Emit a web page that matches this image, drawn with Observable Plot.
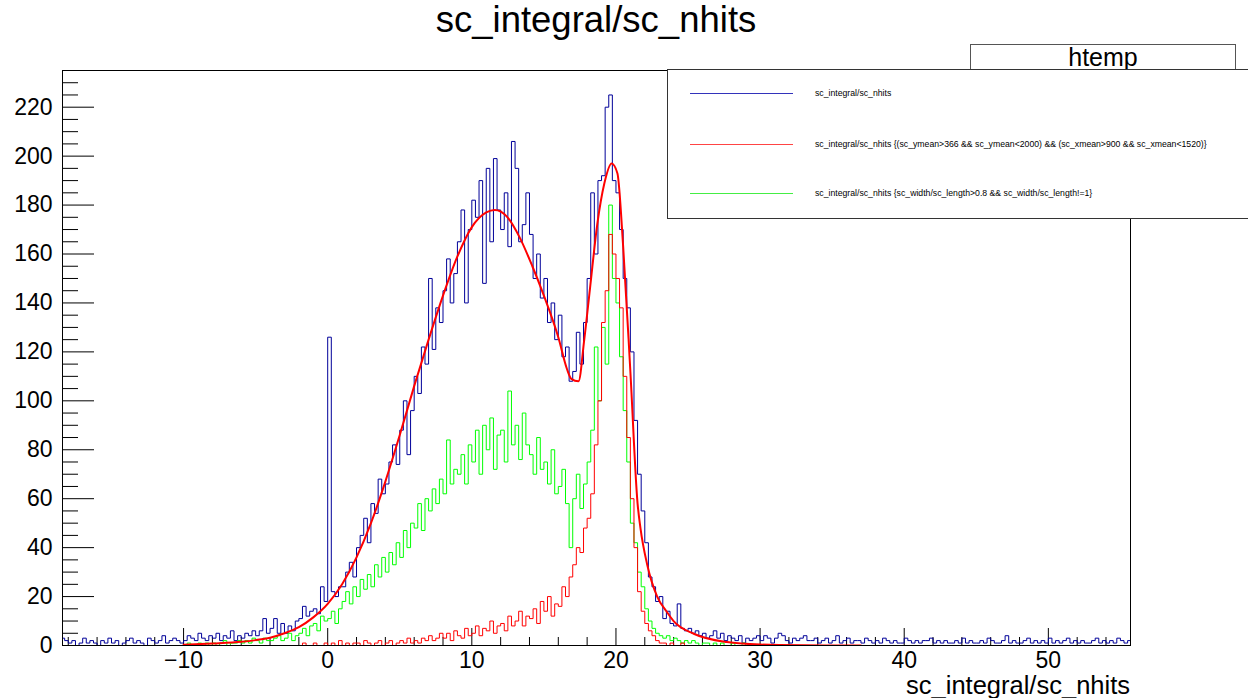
<!DOCTYPE html>
<html><head><meta charset="utf-8">
<script src="https://cdn.jsdelivr.net/npm/d3@7"></script>
<script src="https://cdn.jsdelivr.net/npm/@observablehq/plot@0.6"></script>
<style>
body{margin:0;background:#fff;font-family:"Liberation Sans",Arial,Helvetica,sans-serif;color:#000;}
#wrap{position:relative;width:1248px;height:698px;overflow:hidden;background:#fff;}
#chart{position:absolute;left:0;top:0;}
.abs{position:absolute;white-space:nowrap;}
#title{left:0;width:1192px;top:1px;text-align:center;font-size:36.5px;line-height:38px;}
#stat{left:970px;top:44px;width:266px;height:40px;border:1px solid #555;background:#fff;box-sizing:border-box;text-align:center;font-size:25px;line-height:24px;padding-top:0px;}
#legend{left:667px;top:69px;width:620px;height:150px;border:1px solid #333;background:#fff;box-sizing:border-box;}
.lline{position:absolute;height:1px;width:103px;left:690px;}
.ltext{position:absolute;left:815px;font-size:8.7px;line-height:10px;}
#xtitle{right:118px;top:673px;font-size:25.5px;line-height:25px;text-align:right;}
</style></head><body>
<div id="wrap">
<div id="chart"></div>
<div id="title" class="abs"></div>
<div id="stat" class="abs"></div>
<div id="legend" class="abs"></div>
<div id="xtitle" class="abs"></div>
</div>
<script>
// ---- text ----
const titleText = "sc_integral/sc_nhits";
const statName = "htemp";
const xAxisTitle = "sc_integral/sc_nhits";
const legendLabels = [
  "sc_integral/sc_nhits",
  "sc_integral/sc_nhits {(sc_ymean>366 && sc_ymean<2000) && (sc_xmean>900 && sc_xmean<1520)}",
  "sc_integral/sc_nhits {sc_width/sc_length>0.8 && sc_width/sc_length!=1}"
];
const seriesColors = ["#000099", "#ff0000", "#00ff00"];
const legendColors = ["#3333bb", "#ff4444", "#44ee44"];

// ---- axes ----
const xDomain = [-18.4, 55.7];
const yDomain = [0, 235];
const xMajor = [-10, 0, 10, 20, 30, 40, 50];
const xMinor = [-18,-16,-14,-12,-8,-6,-4,-2,2,4,6,8,12,14,16,18,22,24,26,28,32,34,36,38,42,44,46,48,52,54];
const yMajor = [0,20,40,60,80,100,120,140,160,180,200,220];
const yMinor = [5,10,15,25,30,35,45,50,55,65,70,75,85,90,95,105,110,115,125,130,135,145,150,155,165,170,175,185,190,195,205,210,215,225,230,235];

// ---- histograms (bin width 0.25) ----
const binWidth = 0.25;
const binLo = -18.5, binHi = 56;

const blueStart = -18.5;
const blueCounts = [
 3,2,1,2,0,1,3,1,2,1, 0,2,1,3,1,2,0,1,2,3, 1,2,1,0,3,2,1,2,4,1, 2,3,2,1,
 2,4,3,2,5,3,2,4,
 3,5,2,4,3,6,2,4,
 3,5,4,6, 4,6,11,5, 7,11,5,9, 5,8,6,10, 11,16,12,14, 15,13,24,18,
 126,22,20,24, 24,30,34,28, 40,45,52,42, 58,54,68,62,
 66,75,82,74, 88,100,78,96, 110,103,122,115, 150,121,138,132,
 145,158,140,152, 165,178,140,170, 182,175,190,148, 195,165,199,178,
 170,185,163,206, 195,165,172,185, 168,150,160,142, 150,132,140,125,
 135,118,122,108, 112,128,115,132, 150,185,160,190, 192,220,225,190,
 185,170,150,138, 120,92,70,55, 42,28,24,18, 20,11,14,9,
 8,17,7,6, 7,5,6,4, 5,3,4,6,
 3,5,2,4,3,2,4,1,3,2,3,4,
 2,4,3,1,3,5,4,2,1,3, 2,3,4,2,2,3,1,2,3,1, 2,4,1,2,3,1,2,2,1,3, 2,1,2,1,3,2,1,2,1,1,
 3,2,1,2,1,2,2,3,1,2, 1,2,1,1,2,1,3,1,2,1, 1,2,1,3,2,1,1,2,4,1, 2,1,1,2,3,1,2,1,2,1,
 3,1,2,1,2,3,1,2,1,2, 1,1,2,3,1,2,1,2,1,3, 2,1,2
];

const redStart = -2;
const redCounts = [
 0,1,0,0,1,0,0,1, 0,1,0,2,0,1,0,1, 1,0,2,1,0,1,2,0, 1,2,0,1,2,1,3,1,
 2,1,3,2,4,2,3,5, 3,5,2,6,4,3,7,4, 5,8,4,7,6,10,5,8,
 9,6,12,8, 10,14,8,12, 11,15,9,18, 14,20,12,17, 16,24,20,28,
 33,40,38,48, 52,62,82,100, 132,145,168,160, 150,138,110,85,
 60,40,22,14, 9,6,4,2, 1,1,0,1,0,0,1,0
];

const greenStart = -10;
const greenCounts = [
 0,1,0,0,1,0,1,0, 1,0,1,2,0,1,1,2, 1,2,1,3,2,1,3,2,
 2,3,4,2, 3,5,2,4, 5,7,4,8, 9,6,12,10,
 11,14,9,15, 18,22,17,24, 20,27,23,29, 24,33,28,36,
 30,38,33,42, 36,47,40,50, 48,58,47,60, 55,64,58,68,
 62,84,66,72, 70,78,66,82, 75,88,70,90, 80,93,72,86,
 88,75,104,82, 90,76,95,82, 78,70,85,72, 75,66,80,62,
 65,72,58,40, 60,70,56,66, 75,88,122,100, 130,115,180,150,
 140,118,96,75, 50,42,30,24, 15,10,7,5, 4,3,4,2, 3,2,1,2,
 1,2,1,0,1,1,0,1,0,1,0,0,1,0,0,1,0,0,0,0
];

// ---- fitted curve (red, smooth) ----
const fitX = [-10,-8,-6,-5,-4,-3,-2,-1,0,1,2,3,4,5,6,7,8,9,10,11,11.6,12.4,13.3,14.2,15,16,16.6,16.9,17.4,17.8,18.2,18.7,19.2,19.7,20.1,20.5,21,21.5,21.7,22.17,22.86,23.5,24,25.4,27.7,30,33,37];
const fitY = [0.3,0.8,1.5,2.2,3.2,5,7.5,11.5,17,25,36,50,67,86,106,125,143,159,171,177,178,175.5,167,155,143,126,113,109,108,125,146,172,189,197,193,163,112,58,48,33,20,14,10,4.8,1.4,0.4,0.1,0];

// ---- build ----
function stepPoints(start, counts) {
  const lead = Math.round((start - binLo) / binWidth);
  const all = [];
  for (let i = 0; i < lead; i++) all.push(0);
  counts.forEach(c => all.push(c));
  const total = Math.round((binHi - binLo) / binWidth);
  while (all.length < total) all.push(0);
  const pts = all.map((c, i) => ({x: binLo + i * binWidth, y: c}));
  pts.push({x: binLo + all.length * binWidth, y: all[all.length - 1]});
  return pts;
}
const bluePts = stepPoints(blueStart, blueCounts);
const redPts = stepPoints(redStart, redCounts);
const greenPts = stepPoints(greenStart, greenCounts);
const fitPts = fitX.map((x, i) => ({x, y: fitY[i]}));

const W = 1248, H = 698, mL = 62, mR = 118, mT = 70, mB = 53;
const frameW = W - mL - mR, frameH = H - mT - mB;
const fmt = d => d < 0 ? "\u2212" + Math.abs(d) : String(d);

const chart = Plot.plot({
  width: W, height: H,
  marginLeft: mL, marginRight: mR, marginTop: mT, marginBottom: mB,
  style: {fontFamily: '"Liberation Sans", Arial, Helvetica, sans-serif', fontSize: "23px", color: "black", background: "white"},
  x: {domain: xDomain, ticks: xMajor, tickSize: 0, tickPadding: 6, tickFormat: fmt, label: null},
  y: {domain: yDomain, ticks: yMajor, tickSize: 0, tickPadding: 10, label: null},
  marks: [
    Plot.ruleX(xMinor, {x: d => d, insetTop: frameH - 8, stroke: "black"}),
    Plot.ruleX(xMajor, {x: d => d, insetTop: frameH - 17, stroke: "black"}),
    Plot.ruleY(yMinor, {y: d => d, insetRight: frameW - 16, stroke: "black"}),
    Plot.ruleY(yMajor, {y: d => d, insetRight: frameW - 32, stroke: "black"}),
    Plot.line(bluePts, {x: "x", y: "y", curve: "step-after", stroke: seriesColors[0], strokeWidth: 1, clip: true}),
    Plot.line(greenPts, {x: "x", y: "y", curve: "step-after", stroke: seriesColors[2], strokeWidth: 1, clip: true}),
    Plot.line(redPts, {x: "x", y: "y", curve: "step-after", stroke: seriesColors[1], strokeWidth: 1, clip: true}),
    Plot.line(fitPts, {x: "x", y: "y", curve: "monotone-x", stroke: "#ff0000", strokeWidth: 2, clip: true}),
    Plot.frame({stroke: "black"})
  ]
});
document.getElementById("chart").appendChild(chart);

document.getElementById("title").textContent = titleText;
document.getElementById("stat").textContent = statName;
document.getElementById("xtitle").textContent = xAxisTitle;

const legend = document.getElementById("legend");
const rowY = [93, 144, 193];
legendLabels.forEach((lab, i) => {
  const l = document.createElement("div");
  l.className = "lline";
  l.style.top = (rowY[i] - 69 - 1) + "px";
  l.style.left = (690 - 667 - 1) + "px";
  l.style.background = legendColors[i];
  legend.appendChild(l);
  const t = document.createElement("div");
  t.className = "ltext";
  t.style.left = (815 - 667 - 1) + "px";
  t.style.top = (rowY[i] - 69 - 1 - 5) + "px";
  t.textContent = lab;
  legend.appendChild(t);
});
</script>
</body></html>
